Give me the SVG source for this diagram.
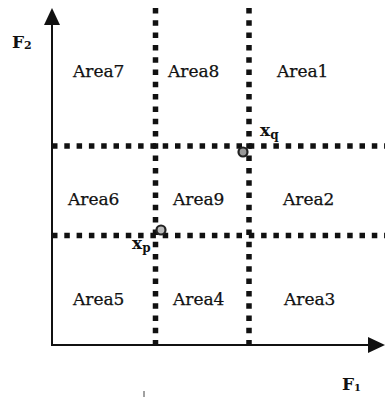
<svg xmlns="http://www.w3.org/2000/svg" width="385" height="399" viewBox="0 0 385 399">
<style>
.area{font-family:"DejaVu Serif","Liberation Serif",serif;font-size:17px;fill:#111;stroke:#111;stroke-width:0.25}
.lbl{font-family:"DejaVu Serif","Liberation Serif",serif;font-weight:bold;fill:#111}
.axis{stroke:#111;stroke-width:2;fill:none}
.grid{stroke:#111;stroke-width:5.5;stroke-dasharray:5.5 6.8;fill:none}
.pt{stroke:#222;stroke-width:2.2}
</style>
<defs>
<marker id="arr" markerUnits="userSpaceOnUse" markerWidth="17" markerHeight="16" refX="0" refY="8" orient="auto" viewBox="0 0 17 16">
<path d="M0,0 L17,8 L0,16 z" fill="#111"/>
</marker>
</defs>
<rect width="385" height="399" fill="#fff"/>
<g id="connectors">
<line class="axis" x1="52" y1="346" x2="52" y2="25" marker-end="url(#arr)"/>
<line class="axis" x1="51" y1="345" x2="368" y2="345" marker-end="url(#arr)"/>
<line class="grid" x1="155.5" y1="8" x2="155.5" y2="346"/>
<line class="grid" x1="249" y1="8" x2="249" y2="346"/>
<line class="grid" x1="52" y1="146" x2="385" y2="146"/>
<line class="grid" x1="52" y1="235.5" x2="385" y2="235.5"/>
<line x1="144" y1="391" x2="144" y2="397" stroke="#444" stroke-width="1"/>
</g>
<g id="axis-F2"><text class="lbl" x="12" y="48" font-size="17">F<tspan font-size="11" dy="1">2</tspan></text></g>
<g id="axis-F1"><text class="lbl" x="342" y="390" font-size="17">F<tspan font-size="10" dy="1">1</tspan></text></g>
<g id="area7"><text class="area" x="73" y="77">Area7</text></g>
<g id="area8"><text class="area" x="168" y="77">Area8</text></g>
<g id="area1"><text class="area" x="277" y="77">Area1</text></g>
<g id="area6"><text class="area" x="68" y="205">Area6</text></g>
<g id="area9"><text class="area" x="173" y="205">Area9</text></g>
<g id="area2"><text class="area" x="283" y="205">Area2</text></g>
<g id="area5"><text class="area" x="73" y="305">Area5</text></g>
<g id="area4"><text class="area" x="173" y="305">Area4</text></g>
<g id="area3"><text class="area" x="284" y="305">Area3</text></g>
<g id="point-xq">
<circle class="pt" cx="243" cy="152" r="4.5" fill="#999"/>
<text class="lbl" x="260" y="136" font-size="17">x<tspan font-size="12" dy="3">q</tspan></text>
</g>
<g id="point-xp">
<circle class="pt" cx="161" cy="230" r="4.5" fill="#bbb"/>
<text class="lbl" x="132" y="249" font-size="17">x<tspan font-size="12" dy="3">p</tspan></text>
</g>
</svg>
